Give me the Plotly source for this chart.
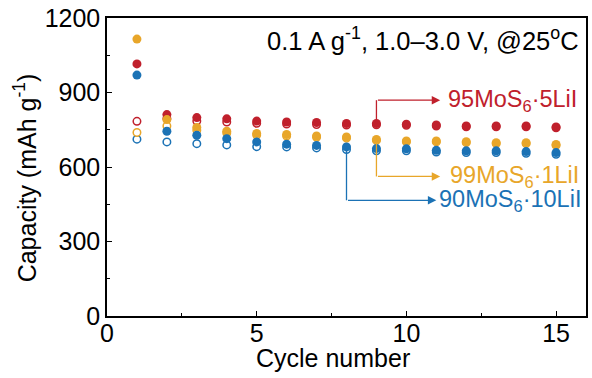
import plotly.graph_objects as go

cycles = list(range(1, 16))
# discharge (filled) / charge (open) capacities, mAh g-1
red_fill = [1015, 811, 799, 794, 785, 781, 779, 775, 775, 772, 769, 765, 765, 765, 761]
red_open = [784, 795, 785, 781, 776, 773, 771, 769, 770, 768, 765, 762, 762, 762, 758]
yel_fill = [1115, 791, 759, 744, 735, 731, 725, 721, 711, 705, 705, 702, 698, 698, 691]
yel_open = [739, 765, 748, 737, 729, 725, 720, 716, 707, 701, 701, 698, 694, 694, 687]
blu_fill = [970, 744, 728, 714, 701, 692, 687, 681, 674, 673, 667, 665, 665, 662, 658]
blu_open = [712, 701, 694, 689, 682, 681, 677, 670, 665, 665, 660, 658, 658, 655, 651]

RED = "#C0202C"
YEL = "#E8A62A"
BLU = "#1B72B5"

labels = ["95MoS<sub>6</sub>·5LiI", "99MoS<sub>6</sub>·1LiI", "90MoS<sub>6</sub>·10LiI"]
label_cycle = [9, 9, 8]
label_y = [869, 562, 466]
arrow_tip = [11.13, 11.13, 11.0]
text_x = [11.33, 11.38, 11.03]
condition_text = "0.1 A g<sup>-1</sup>, 1.0–3.0 V, @25<sup>o</sup>C"
x_title = "Cycle number"
y_title = "Capacity (mAh g<sup>-1</sup>)"

FONT = "Arial, Liberation Sans, Helvetica, sans-serif"

fig = go.Figure()
msize = 9
for vals, col in [(blu_open, BLU), (yel_open, YEL), (red_open, RED)]:
    fig.add_trace(go.Scatter(x=cycles, y=vals, mode="markers",
                             marker=dict(symbol="circle", size=msize - 1.5, color="white",
                                         line=dict(color=col, width=1.5)),
                             showlegend=False, hoverinfo="skip"))
for vals, col in [(red_fill, RED), (yel_fill, YEL), (blu_fill, BLU)]:
    fig.add_trace(go.Scatter(x=cycles, y=vals, mode="markers",
                             marker=dict(symbol="circle", size=msize, color=col,
                                         line=dict(width=0)),
                             showlegend=False, hoverinfo="skip"))

series_for_label = [red_fill, yel_fill, blu_fill]
cols = [RED, YEL, BLU]
for lab, cyc, ly, tip, tx, ser, col in zip(labels, label_cycle, label_y, arrow_tip, text_x,
                                           series_for_label, cols):
    fig.add_shape(type="line", x0=cyc, x1=cyc, y0=ser[cyc - 1], y1=ly,
                  xref="x", yref="y", line=dict(color=col, width=1.3))
    fig.add_annotation(x=tip, y=ly, ax=cyc, ay=ly, xref="x", yref="y",
                       axref="x", ayref="y", showarrow=True, arrowhead=2,
                       arrowsize=1.3, arrowwidth=1.3, arrowcolor=col, text="")
    fig.add_annotation(x=tx, y=ly, xref="x", yref="y", text=lab,
                       showarrow=False, xanchor="left", yanchor="middle",
                       font=dict(family=FONT, size=23.5, color=col))

fig.add_annotation(x=0.99, y=0.99, xref="paper", yref="paper", text=condition_text,
                   showarrow=False, xanchor="right", yanchor="top",
                   font=dict(family=FONT, size=25.5, color="black"))

# axis titles
fig.add_annotation(x=0.472, y=-0.141, xref="paper", yref="paper", text=x_title,
                   showarrow=False, xanchor="center", yanchor="middle",
                   font=dict(family=FONT, size=25, color="black"))
fig.add_annotation(x=-0.1705, y=0.463, xref="paper", yref="paper", text=y_title,
                   showarrow=False, xanchor="center", yanchor="middle", textangle=-90,
                   font=dict(family=FONT, size=25, color="black"))

axis_common = dict(showline=True, linecolor="black", linewidth=1.5, mirror=True,
                   ticks="inside", tickcolor="black", ticklen=5, tickwidth=1.3,
                   showgrid=False, zeroline=False,
                   tickfont=dict(family=FONT, size=25, color="black"))

fig.update_xaxes(range=[0, 16], tick0=0, dtick=5, ticklabelstandoff=-6,
                 minor=dict(dtick=2.5, ticks="inside", ticklen=3, tickcolor="black", tickwidth=1),
                 **axis_common)
fig.update_yaxes(range=[0, 1200], tick0=0, dtick=300,
                 minor=dict(dtick=150, ticks="inside", ticklen=3, tickcolor="black", tickwidth=1),
                 **axis_common)

fig.update_layout(width=592, height=378, margin=dict(l=107, r=4, t=18, b=62),
                  plot_bgcolor="white", paper_bgcolor="white", showlegend=False)

fig.write_html("out.html", config={"displayModeBar": False},
               post_script="document.body.style.margin='0px';document.body.style.overflow='hidden';")
